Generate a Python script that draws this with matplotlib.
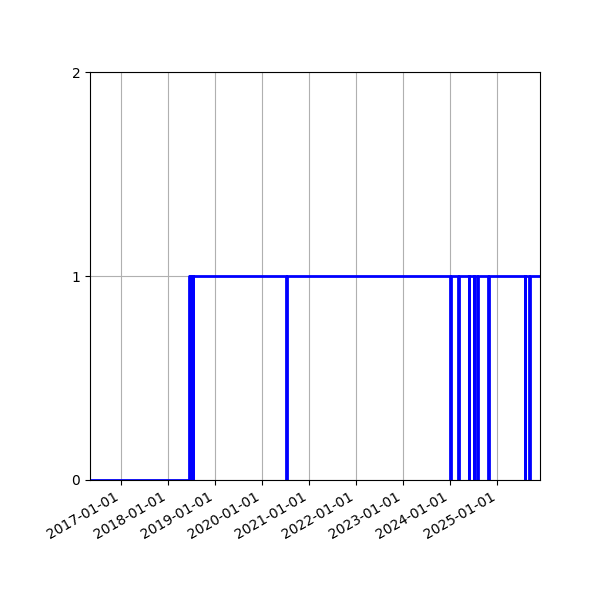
import numpy as np
from matplotlib import pyplot as plt
from matplotlib import dates as mdates

# state changes: the value holds from each date until the next one
change_dates = [
    "2016-05-08",
    "2018-06-15", "2018-06-20", "2018-06-25", "2018-07-01",
    "2018-07-06", "2018-07-12", "2018-07-18",
    "2020-07-09", "2020-07-11",
    "2024-01-02", "2024-01-04",
    "2024-03-04", "2024-03-06",
    "2024-05-25", "2024-05-28",
    "2024-07-03", "2024-07-06",
    "2024-07-30", "2024-08-04",
    "2024-10-20", "2024-10-24",
    "2025-08-03", "2025-08-06",
    "2025-09-04", "2025-09-13",
    "2025-11-27",
]
states = [
    0,
    1, 0, 1, 0,
    1, 0, 1,
    0, 1,
    0, 1,
    0, 1,
    0, 1,
    0, 1,
    0, 1,
    0, 1,
    0, 1,
    0, 1,
    1,
]
y_ticks = [0, 1, 2]

dates = np.array(change_dates, dtype="datetime64[D]")

fig, ax = plt.subplots(figsize=(6, 6), dpi=100)
ax.plot(dates, states, color="blue", linewidth=2, drawstyle="steps-post")
ax.set_xlim(dates[0], dates[-1])
ax.set_ylim(0, 2)
ax.set_yticks(y_ticks)
ax.xaxis.set_major_locator(mdates.YearLocator())
ax.xaxis.set_major_formatter(mdates.DateFormatter("%Y-%m-%d"))
ax.grid(True)
fig.autofmt_xdate()
fig.subplots_adjust(left=0.15, right=0.9, top=0.88, bottom=0.2)
plt.savefig("out.png")
